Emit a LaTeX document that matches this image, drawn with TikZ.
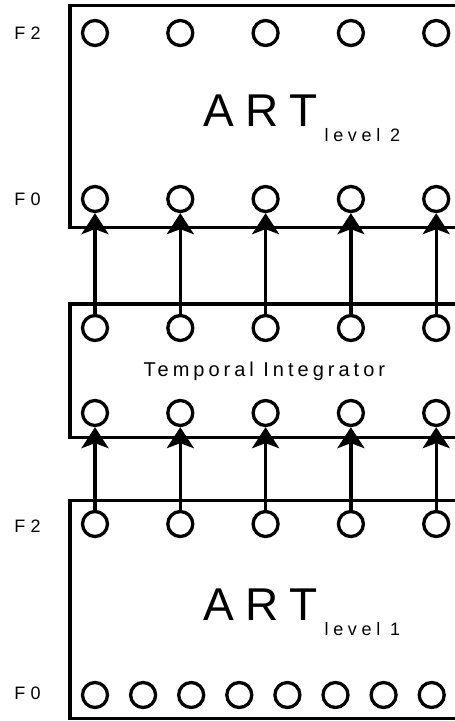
\documentclass[tikz,border=0pt]{standalone}
\usepackage{fontspec}
\setmainfont{Liberation Sans}
\newfontfamily\artfont[LetterSpace=25]{Liberation Sans}
\newfontfamily\lvlfont[LetterSpace=26]{Liberation Sans}
\newfontfamily\tifont[LetterSpace=20]{Liberation Sans}
\newfontfamily\labfont[LetterSpace=30]{Liberation Sans}
\usetikzlibrary{arrows.meta}
\begin{document}
\begin{tikzpicture}[x=1pt,y=-1pt,line width=3.3pt,
  unit/.style={circle,draw,minimum size=25pt,inner sep=0pt},
  arr/.style={-{Stealth[length=21pt,width=27pt,inset=5pt]}},
  lab/.style={font={\labfont\fontsize{18}{20}\selectfont},anchor=center,inner sep=0pt},
  big/.style={font={\artfont\fontsize{46}{50}\selectfont},anchor=base west,inner sep=0pt},
  sub/.style={font={\lvlfont\fontsize{18}{20}\selectfont},anchor=base west,inner sep=0pt},
  tilab/.style={font={\tifont\fontsize{20}{22}\selectfont},anchor=base west,inner sep=0pt}]
\useasboundingbox (0,0) rectangle (455,721);
\clip (0,0) rectangle (455,721);
% boxes
\draw (70,5.7) rectangle (480,227.5);
\draw (70,304) rectangle (480,437.7);
\draw (70,500.3) rectangle (480,718.7);
% five-column units
\foreach \i/\x in {1/95,2/180.3,3/265.6,4/350.9,5/436.2} {
  \node[unit] (a2\i) at (\x,33) {};
  \node[unit] (a0\i) at (\x,199) {};
  \node[unit] (tt\i) at (\x,328) {};
  \node[unit] (tb\i) at (\x,413) {};
  \node[unit] (b2\i) at (\x,524) {};
}
\foreach \i in {0,...,7} {
  \node[unit] (b0\i) at ({95+48.1*\i},695) {};
}
% arrows
\foreach \i in {1,...,5} {
  \draw[arr] (tt\i.north) -- (a0\i.south);
  \draw[arr] (b2\i.north) -- (tb\i.south);
}
% texts
\node[lab] (l1) at (27.5,33) {F2};
\node[lab] (l2) at (27.5,199) {F0};
\node[lab] (l3) at (27.5,526) {F2};
\node[lab] (l4) at (27.5,693) {F0};
\node[big] (art2) at (202,126.7) {ART};
\node[sub] (lv2) at (323,141.7) {level 2};
\node[tilab] (ti) at (142,376) {Temporal Integrator};
\node[big] (art1) at (202,620.7) {ART};
\node[sub] (lv1) at (323,635.7) {level 1};
\end{tikzpicture}
\end{document}
